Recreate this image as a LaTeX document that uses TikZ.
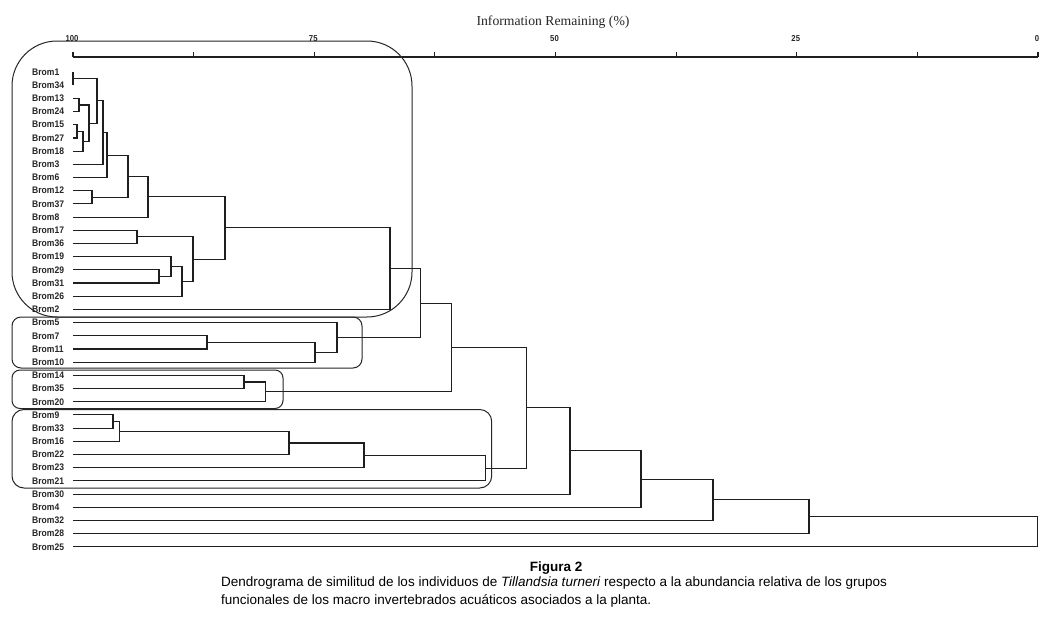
\documentclass[tikz,border=0pt]{standalone}
\usepackage{fontspec}
\setmainfont{Liberation Sans}
\newfontfamily\titlefont{Liberation Serif}
\newfontfamily\leaffont[FakeStretch=0.9]{Liberation Sans}
\usetikzlibrary{calc}
\newcommand\mrg[4]{\path let \p1=(#3), \p2=(#4) in (#2pt,{0.5*\y1+0.5*\y2}) coordinate (#1);
  \draw[tree] (#3) -| (#1) |- (#4);}
\begin{document}
\begin{tikzpicture}[x=1pt,y=-1pt,
  tree/.style={line width=1.1pt, draw=black!88},
  grp/.style={line width=1pt, draw=black!85},
  axisline/.style={line width=1.1pt, draw=black!88},
  leaf/.style={font=\leaffont\bfseries\fontsize{9.5}{10}\selectfont, anchor=west, inner sep=0pt, text=black!85},
  axlab/.style={font=\leaffont\bfseries\fontsize{8.6}{9}\selectfont, inner sep=0pt, text=black!85},
  capt/.style={font=\fontsize{13.5}{16}\selectfont, inner sep=0pt, text=black}]
\useasboundingbox (0,0) rectangle (1048,621);
\fill[white] (0,0) rectangle (1048,621);
% title and axis
\node[font=\titlefont\fontsize{13.7}{15}\selectfont, anchor=base, inner sep=0pt, text=black!85] (ttl) at (553,25) {Information Remaining (\%)};
\coordinate (a0) at (73,57);
\coordinate (a1) at (1038,57);
\draw[axisline] (a0) -- (a1);
\foreach \k in {0,...,8} \draw[axisline] ({73+120.625*\k},57) -- ++(0,-5.5);
\foreach \v/\k in {100/0,75/2,50/4,25/6,0/8}
  \node[axlab] (t\v) at ({72+120.625*\k},38.5) {\v};
% leaves
\foreach \n [count=\i from 0] in {1,34,13,24,15,27,18,3,6,12,37,8,17,36,19,29,31,26,2,5,7,11,10,14,35,20,9,33,16,22,23,21,30,4,32,28,25}{
  \node[leaf] (L\n) at (32,{72+13.19*\i}) {Brom\n};
  \coordinate (b\n) at (73,{72+13.19*\i});
}
% merges
\mrg{m1}{73}{b1}{b34}
\mrg{m2}{79}{b13}{b24}
\mrg{m3}{77}{b15}{b27}
\mrg{m4}{83}{m3}{b18}
\mrg{m5}{89}{m2}{m4}
\mrg{m6}{97}{m1}{m5}
\mrg{m7}{103}{m6}{b3}
\mrg{m8}{107}{m7}{b6}
\mrg{m9}{92}{b12}{b37}
\mrg{m10}{128}{m8}{m9}
\mrg{m11}{148}{m10}{b8}
\mrg{m12}{137}{b17}{b36}
\mrg{m13}{159}{b29}{b31}
\mrg{m14}{171}{b19}{m13}
\mrg{m15}{182}{m14}{b26}
\mrg{m16}{193}{m12}{m15}
\mrg{m17}{225}{m11}{m16}
\mrg{m18}{390}{m17}{b2}
\mrg{m19}{207}{b7}{b11}
\mrg{m20}{315}{m19}{b10}
\mrg{m21}{337}{b5}{m20}
\mrg{m22}{420.7}{m18}{m21}
\mrg{m23}{244}{b14}{b35}
\mrg{m24}{265.7}{m23}{b20}
\mrg{m25}{451.7}{m22}{m24}
\mrg{m26}{113}{b9}{b33}
\mrg{m27}{119.3}{m26}{b16}
\mrg{m28}{289}{m27}{b22}
\mrg{m29}{364}{m28}{b23}
\mrg{m30}{485.7}{m29}{b21}
\mrg{m31}{526.5}{m25}{m30}
\mrg{m32}{570}{m31}{b30}
\mrg{m33}{641}{m32}{b4}
\mrg{m34}{713}{m33}{b32}
\mrg{m35}{809}{m34}{b28}
\mrg{m36}{1037.5}{m35}{b25}
% group boxes
\draw[grp, rounded corners=45pt] (12,41) rectangle (412,317);
\draw[grp, rounded corners=9pt] (12,317) rectangle (362,368);
\draw[grp, rounded corners=8pt] (12,370) rectangle (283,408.5);
\draw[grp, rounded corners=12pt] (12,409.5) rectangle (491.7,488);
% caption
\node[capt, font=\bfseries\fontsize{13.5}{16}\selectfont, anchor=base] (fig) at (556,571) {Figura 2};
\node[capt, anchor=base west] (cap1) at (221,586.5) {Dendrograma de similitud de los individuos de \textit{Tillandsia turneri} respecto a la abundancia relativa de los grupos};
\node[capt, anchor=base west] (cap2) at (221,604.5) {funcionales de los macro invertebrados acuáticos asociados a la planta.};
\end{tikzpicture}
\end{document}
